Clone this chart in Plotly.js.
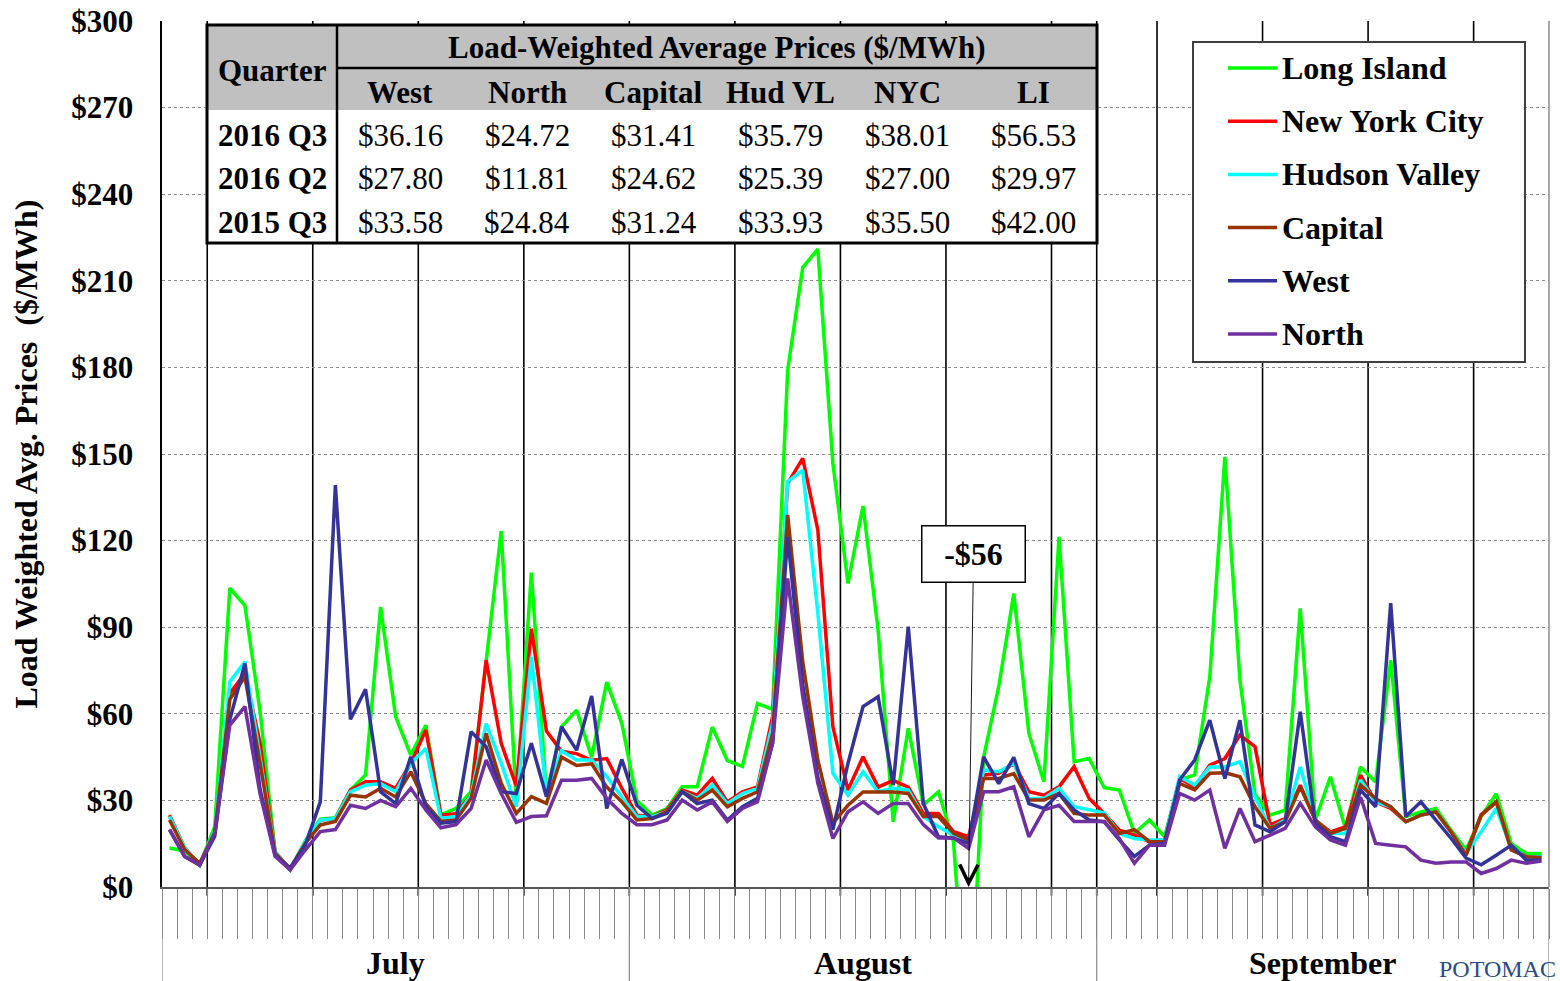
<!DOCTYPE html>
<html>
<head>
<meta charset="utf-8">
<script src="https://cdn.plot.ly/plotly-3.0.1.min.js"></script>
<style>
  html, body { margin: 0; padding: 0; background: #ffffff; }
  #chart { width: 1560px; height: 981px; }
</style>
</head>
<body>
<div id="chart"></div>
<script>
// Daily load-weighted average prices by zone, 1 July – 30 September 2016 ($/MWh)
const longIsland = [13.5, 12.5, 7.6, 21, 103.5, 97.5, 61, 12.2, 5.9, 16, 23.5, 24, 33.6, 38.8, 97, 59, 45.7, 56, 25, 27.2,
  33, 79, 123.3, 30, 108.9, 32, 55.5, 61.3, 45, 71, 56.7, 30, 24.9, 27.2, 34.7, 34.7, 55.4, 43.8, 41.8, 63.6,
  61.5, 179, 214.6, 221, 146.8, 105.2, 132, 89, 22.6, 55, 28.4, 33, 15.8, -56, 45, 69.4, 101.7, 53.2, 36.5, 121.3,
  43.4, 44.5, 34.4, 33.6, 18.6, 23.2, 17.4, 37.1, 38.8, 72.8, 149, 71.7, 32, 24.9, 26.6, 96.5, 23.2, 38.2, 20.3, 41.6,
  36.4, 78.6, 24.4, 26, 27.2, 19.7, 12.8, 24.4, 32.3, 15, 11.6, 11.6];
const newYorkCity = [24.9, 13.6, 7.6, 18.8, 67.1, 74, 50, 12.2, 5.9, 15.1, 23.2, 23.7, 33.6, 36.5, 36.5, 34.2, 42.8, 54.4, 24.9, 25.4,
  31.8, 78.6, 49.8, 35, 89.5, 54, 47, 46.2, 43.9, 44.5, 34.2, 24.9, 24.4, 26.7, 33.6, 31.8, 37.6, 29.5, 33, 34.7,
  59, 139.8, 148.5, 123.7, 55.5, 33.6, 45.1, 34.6, 36.9, 34.6, 25.5, 25.5, 19.2, 17.4, 38.8, 39.4, 42.8, 33, 31.8, 34.7,
  41.7, 30.7, 25.5, 19.7, 18, 15.7, 16.3, 37.6, 34.7, 42.2, 44.5, 52.6, 48.6, 21.5, 23.7, 35.3, 23.2, 19.1, 20.8, 38.8,
  29.5, 27.2, 22.6, 24.9, 26, 19.1, 11.5, 25, 29.5, 13, 10.5, 10.5];
const hudsonValley = [24.4, 13.6, 7.6, 19.3, 71.1, 78, 45, 12.2, 5.9, 15.7, 23.2, 23.7, 33, 35.3, 35.8, 33, 42.8, 48, 23.7, 24.4,
  31.8, 56.6, 42.8, 27.8, 79.8, 32.6, 47.2, 44, 44, 38.2, 31.2, 24.4, 24.4, 26.1, 33, 30.7, 35.3, 28.9, 32.4, 34.2,
  56.7, 140.4, 144.4, 95, 39.4, 31.8, 39.9, 33, 34.2, 33.6, 24.4, 20.9, 18, 16.3, 40.5, 39.9, 42.8, 30.7, 30.7, 34.2,
  27.8, 26.7, 25.7, 18.5, 16.8, 16.3, 16.3, 38.2, 35.3, 41.6, 41.6, 43.4, 31.2, 20.3, 23.2, 41.6, 23.2, 18.5, 18.5, 37.1,
  29.5, 27.8, 22.6, 24.9, 26, 19.1, 11.6, 19.1, 27.2, 13.4, 10.5, 10.5];
const capital = [23.2, 13, 8.2, 18.8, 65, 72.8, 43, 11.6, 6.5, 15.1, 21.5, 22.7, 31.8, 31.2, 34.2, 31.2, 39.9, 28.9, 22.7, 23.2,
  30.7, 53.2, 35.9, 25.5, 31.3, 29, 45, 42.1, 42.7, 34.6, 29.5, 23.2, 23.7, 26.1, 33, 30.1, 33.6, 27.8, 30.7, 33,
  53.2, 128.9, 78, 44, 22.1, 28.3, 32.9, 32.9, 32.9, 32.4, 24.4, 24.4, 18.6, 16.3, 37.6, 37.6, 39.3, 30.1, 30.1, 32.4,
  25.5, 24.9, 24.9, 18.5, 19.9, 15.7, 15.7, 35.9, 33.6, 39.4, 39.6, 38.2, 27.8, 20.3, 22.6, 34.7, 23.2, 18.5, 20.3, 35.3,
  30.6, 27.8, 22.6, 24.9, 26, 19.1, 11, 24.9, 29.5, 12.8, 10.5, 10.2];
const west = [19.9, 10.6, 7.6, 17.6, 58, 77.4, 34, 11, 6.5, 14.5, 29.5, 139.2, 58.1, 68.5, 33, 28.9, 45.1, 27.8, 22.1, 22.6,
  53.8, 48.6, 33, 32.4, 49.8, 31.3, 55.5, 47.4, 66.2, 27.2, 44.2, 28.3, 23.7, 25.5, 33, 28.9, 30.1, 23.2, 27.8, 30.7,
  49.8, 121.3, 70, 38, 19.9, 42.8, 62.5, 65.9, 35.3, 90.2, 28.9, 17.4, 16.9, 15.1, 45.1, 35.8, 44.9, 28.9, 27.2, 32.4,
  26.7, 23.2, 22.6, 16.3, 10.6, 14.5, 15.1, 37.1, 44, 57.8, 37.6, 57.8, 21.5, 19.1, 22.6, 60.7, 22, 17.4, 15.7, 33.6,
  27.8, 98.3, 24.4, 29.5, 23.2, 16.9, 10, 7.7, 11, 14.5, 9.3, 9.3];
const north = [19.9, 10.6, 7.6, 18.8, 56.1, 62.5, 32.4, 10.6, 5.9, 12.8, 19.2, 19.9, 28.3, 27.2, 30, 27.8, 34.2, 26.7, 20.5, 21.6,
  27.2, 44, 32.4, 22.4, 24.4, 24.7, 37, 37, 37.6, 30.7, 25.5, 21.6, 21.6, 23.2, 30.1, 26.7, 29.5, 22.7, 27.2, 29.5,
  49.8, 106.9, 65.9, 36, 16.8, 26.1, 29.5, 25.5, 28.9, 28.9, 21.6, 17, 17, 13.4, 33, 33, 34.7, 17.4, 26.7, 28.3,
  22.7, 22.7, 22.7, 16.8, 8.2, 14.5, 14.5, 32.4, 30.1, 33.6, 13.4, 27.2, 15.7, 18, 20.3, 29, 20.8, 16.3, 14.5, 31.2,
  15.1, 14.5, 13.9, 9.3, 8.2, 8.7, 8.7, 4.7, 6.4, 9.3, 8.2, 9];

const zoneNames = ['Long Island', 'New York City', 'Hudson Valley', 'Capital', 'West', 'North'];
const zoneSeries = [longIsland, newYorkCity, hudsonValley, capital, west, north];
const zoneColors = ['#00ff00', '#ff0000', '#00ffff', '#993300', '#333399', '#7030a0'];

const months = ['July', 'August', 'September'];
const monthDays = [31, 31, 30];
const firstMondayIndex = 3;   // 4 July 2016

// Quarterly averages shown in the summary table
const quarterLabels = ['2016 Q3', '2016 Q2', '2015 Q3'];
const tableZones = ['West', 'North', 'Capital', 'Hud VL', 'NYC', 'LI'];
const q3of2016 = [36.16, 24.72, 31.41, 35.79, 38.01, 56.53];
const q2of2016 = [27.80, 11.81, 24.62, 25.39, 27.00, 29.97];
const q3of2015 = [33.58, 24.84, 31.24, 33.93, 35.50, 42.00];
const quarterRows = [q3of2016, q2of2016, q3of2015];

// ---- page geometry -------------------------------------------------------
const W = 1560, H = 981;
const M = { l: 162, r: 11, t: 21, b: 94 };
const plotW = W - M.l - M.r, plotH = H - M.t - M.b;
const px = x => (x - M.l) / plotW;          // page pixel -> paper x
const py = y => (H - M.b - y) / plotH;       // page pixel -> paper y

const serif = 'Liberation Serif, Times New Roman, serif';
const nDays = zoneSeries[0].length;
const dayIndex = zoneSeries[0].map((_, i) => i);

const traces = zoneSeries.map((vals, k) => ({
  type: 'scatter', mode: 'lines', name: zoneNames[k],
  x: dayIndex, y: vals,
  line: { color: zoneColors[k], width: 3.5 },
  showlegend: false, hoverinfo: 'y+name'
}));

const shapes = [];
const annotations = [];

// week and month separators through the plot area
const monthStarts = [0];
monthDays.forEach((d, i) => monthStarts.push(monthStarts[i] + d));
const separators = new Set();
for (let d = firstMondayIndex; d < nDays; d += 7) separators.add(d);
monthStarts.slice(1, -1).forEach(d => separators.add(d));
separators.forEach(d => shapes.push({
  type: 'line', xref: 'x', yref: 'paper', x0: d - 0.5, x1: d - 0.5, y0: -0.01, y1: 1,
  line: { color: '#000000', width: 1.6 }, layer: 'below'
}));
// month boxes under the axis
monthStarts.forEach(d => shapes.push({
  type: 'line', xref: 'x', yref: 'paper', x0: d - 0.5, x1: d - 0.5, y0: py(H), y1: 0,
  line: { color: '#8a8a8a', width: 1.2 }
}));
shapes.push({ type: 'line', xref: 'paper', yref: 'paper', x0: 1, x1: 1, y0: 0, y1: 1,
  line: { color: '#8a8a8a', width: 1.5 } });
months.forEach((m, i) => annotations.push({
  xref: 'x', yref: 'paper', x: monthStarts[i] + monthDays[i] / 2 - 0.5, y: py(963),
  text: m, showarrow: false, xanchor: 'center', yanchor: 'middle',
  font: { family: serif, size: 32, color: '#000', weight: 'bold' }
}));
annotations.push({
  xref: 'paper', yref: 'paper', x: px(1437), y: py(954), xanchor: 'left', yanchor: 'top',
  text: 'POTOMAC', showarrow: false,
  font: { family: serif, size: 24, color: '#2b4a8c' }
});

// ---- summary table -------------------------------------------------------
const tb = { x0: 207, x1: 1097, y0: 25, y1: 243, qx: 337, hMid: 68, hEnd: 110 };
const rect = (x0, y0, x1, y1, fill, lineW, lineC) => shapes.push({
  type: 'rect', xref: 'paper', yref: 'paper', layer: 'above',
  x0: px(x0), x1: px(x1), y0: py(y1), y1: py(y0),
  fillcolor: fill, line: { width: lineW, color: lineC || '#000' }
});
const seg = (x0, y0, x1, y1, w, c) => shapes.push({
  type: 'line', xref: 'paper', yref: 'paper', layer: 'above',
  x0: px(x0), x1: px(x1), y0: py(y0), y1: py(y1), line: { width: w, color: c || '#000' }
});
rect(tb.x0, tb.y0, tb.x1, tb.y1, '#ffffff', 0);
rect(tb.x0, tb.y0, tb.x1, tb.hEnd, '#c0c0c0', 0);
seg(tb.qx, tb.hMid, tb.x1, tb.hMid, 2.5);
seg(tb.qx, tb.y0, tb.qx, tb.y1, 2.5);
rect(tb.x0, tb.y0, tb.x1, tb.y1, 'rgba(0,0,0,0)', 3);

const txt = (x, y, s, bold, size, anchor) => annotations.push({
  xref: 'paper', yref: 'paper', x: px(x), y: py(y), text: s, showarrow: false,
  xanchor: anchor || 'center', yanchor: 'middle',
  font: { family: serif, size: size || 31, color: '#000', weight: bold ? 'bold' : 'normal' }
});
const colW = (tb.x1 - tb.qx) / tableZones.length;
const qCenter = (tb.x0 + tb.qx) / 2;
txt(qCenter, 70, 'Quarter', true);
txt((tb.qx + tb.x1) / 2, 47, 'Load-Weighted Average Prices ($/MWh)', true);
tableZones.forEach((z, j) => txt(tb.qx + colW * (j + 0.5), 92, z, true));
const rowY = [135, 179, 222];
quarterLabels.forEach((q, r) => {
  txt(qCenter, rowY[r], q, true);
  quarterRows[r].forEach((v, j) => txt(tb.qx + colW * (j + 0.5), rowY[r], '$' + v.toFixed(2), false));
});

// ---- legend box -----------------------------------------------------------
rect(1193, 42, 1525, 362, '#ffffff', 2, '#404040');
zoneNames.forEach((n, k) => {
  const y = 68 + k * 53.2;
  seg(1228, y, 1277, y, 3.5, zoneColors[k]);
  txt(1280, y, n, true, 32, 'left');
});

// ---- call-out for the negative Long Island day ---------------------------
const minVal = Math.min(...longIsland);
const minDay = longIsland.indexOf(minVal);
annotations.push({
  xref: 'x', yref: 'y', x: minDay, y: 0,
  text: (minVal < 0 ? '-$' : '$') + Math.abs(minVal),
  showarrow: true, arrowhead: 5, arrowsize: 4, arrowwidth: 0.9, arrowcolor: '#000',
  ax: 5, ay: -333, axref: 'pixel', ayref: 'pixel',
  width: 86, height: 39, borderpad: 8,
  bgcolor: '#ffffff', bordercolor: '#000', borderwidth: 1.5,
  font: { family: serif, size: 32, color: '#000', weight: 'bold' }
});

const dayEdges = [];
for (let d = 0; d <= nDays; d++) dayEdges.push(d - 0.5);

const layout = {
  width: W, height: H,
  margin: M,
  paper_bgcolor: '#ffffff', plot_bgcolor: '#ffffff',
  showlegend: false,
  xaxis: {
    range: [-0.5, nDays - 0.5], tickmode: 'array', tickvals: dayEdges,
    showticklabels: false, ticks: 'outside', ticklen: 50, tickcolor: '#8a8a8a', tickwidth: 1,
    showgrid: false, zeroline: false, showline: true, linecolor: '#555555', linewidth: 1.5,
    fixedrange: true
  },
  yaxis: {
    range: [0, 300], dtick: 30, tick0: 0, tickprefix: '$',
    tickfont: { family: serif, size: 31, color: '#000', weight: 'bold' },
    ticklabelstandoff: 20,
    showgrid: true, gridcolor: '#8c8c8c', griddash: 'dot', gridwidth: 1,
    zeroline: false, showline: true, linecolor: '#000000', linewidth: 2.5,
    title: {
      text: 'Load Weighted Avg. Prices\u00a0\u00a0($/MWh)', standoff: 24,
      font: { family: serif, size: 32, color: '#000', weight: 'bold' }
    },
    fixedrange: true
  },
  shapes: shapes,
  annotations: annotations
};

Plotly.newPlot('chart', traces, layout, { displayModeBar: false, staticPlot: true });
</script>
</body>
</html>
